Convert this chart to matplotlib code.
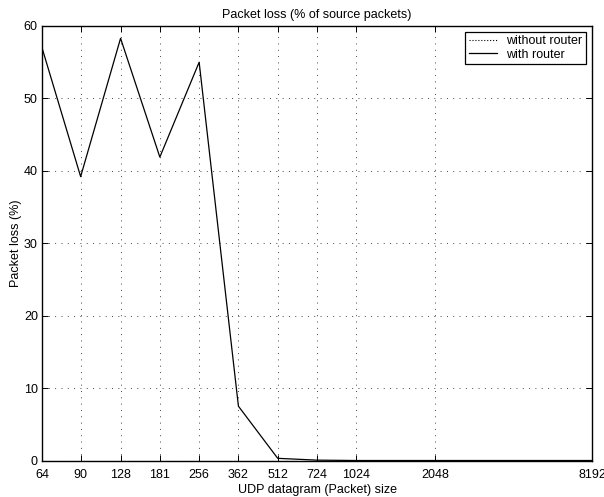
import matplotlib
matplotlib.use("Agg")
import matplotlib.pyplot as plt

# 数据
packet_sizes = [64, 90, 128, 181, 256, 362, 512, 724, 1024, 2048, 8192]
tick_labels = ["64", "90", "128", "181", "256", "362", "512", "724", "1024", "2048", "8192"]
loss_without_router = [0, 0, 0, 0, 0, 0, 0, 0, 0, 0, 0]
loss_with_router = [57.0, 39.2, 58.3, 41.9, 55.0, 7.5, 0.3, 0.05, 0.0, 0.0, 0.0]

plt.rcParams['font.family'] = ['Liberation Sans', 'DejaVu Sans']
plt.rcParams['font.size'] = 9

fig = plt.figure(figsize=(6.04, 4.97), dpi=100)
ax = fig.add_axes([42 / 604, 1 - 460.5 / 497, 550 / 604, 434.5 / 497])

ax.plot(packet_sizes, loss_without_router, ':', color='black', lw=0.8, label='without router')
ax.plot(packet_sizes, loss_with_router, '-', color='black', lw=0.9, label='with router')

ax.set_xscale('log', base=2)
ax.set_xlim(64, 8192)
ax.set_ylim(0, 60)
ax.set_xticks(packet_sizes)
ax.set_xticklabels(tick_labels)
ax.minorticks_off()
ax.set_yticks(range(0, 61, 10))

ax.grid(True, linestyle=(0, (1, 5.5)), color='#444444', lw=0.7)
ax.tick_params(direction='in', top=True, right=True, length=4, width=0.7, pad=3)
ax.tick_params(axis='x', pad=6)
for s in ax.spines.values():
    s.set_linewidth(1.0)

ax.set_title("Packet loss (% of source packets)", fontsize=9, pad=6)
ax.set_xlabel("UDP datagram (Packet) size", labelpad=2)
ax.set_ylabel("Packet loss (%)", labelpad=1)

leg = ax.legend(loc='upper right', fancybox=False, framealpha=1, edgecolor='black',
                borderpad=0.3, handlelength=2.2, labelspacing=0.1, borderaxespad=0.45)
leg.get_frame().set_linewidth(0.9)

fig.savefig("out.png", dpi=100)
